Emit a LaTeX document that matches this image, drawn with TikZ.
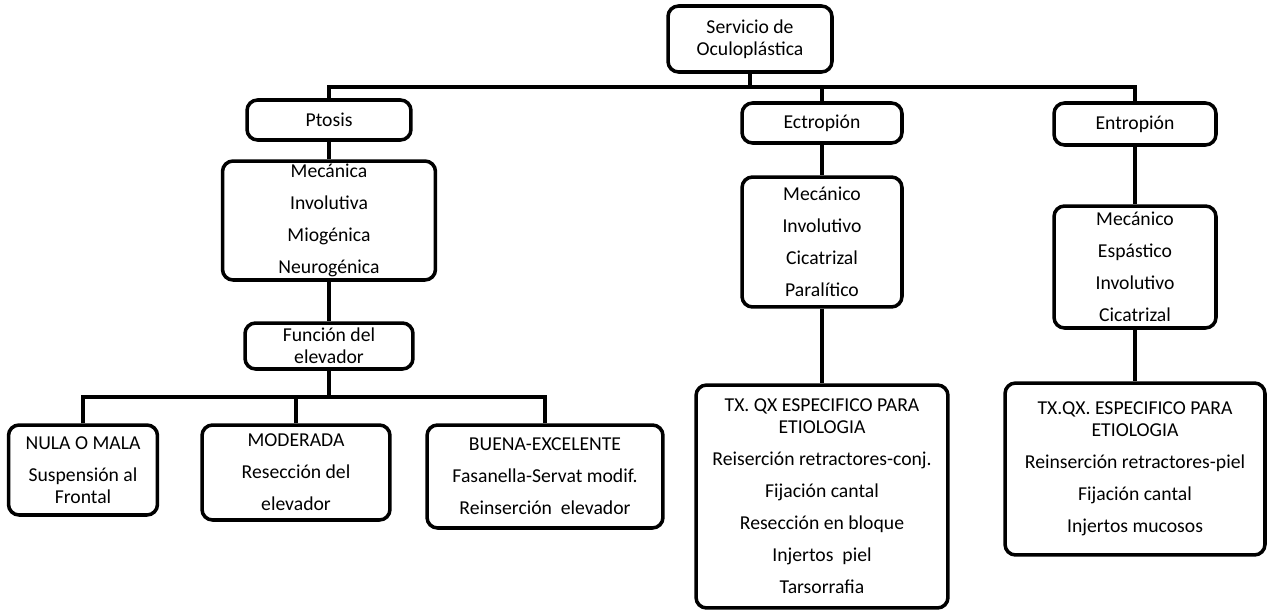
\documentclass[tikz,border=0pt]{standalone}
\usepackage{fontspec}
\setmainfont{Carlito}
\usepackage{tikz}
\usetikzlibrary{positioning, calc}

\tikzset{
  box/.style={draw, line width=2pt, rounded corners=6pt, align=center, inner sep=0pt,
    font=\fontsize{11.2}{12.5}\selectfont},
  link/.style={line width=2pt}
}

\begin{document}
\begin{tikzpicture}[x=0.02cm, y=-0.02cm]
  \useasboundingbox (0,0) rectangle (1270,612);

  % Top level
  \node[box, minimum width=3.28cm, minimum height=1.32cm] (serv) at (750,39) {Servicio de\\Oculoplástica};
  \coordinate (topbus) at (750,87);

  \node[box, minimum width=3.28cm, minimum height=0.8cm] (ptosis) at (329,120) {Ptosis};
  \node[box, minimum width=3.2cm, minimum height=0.8cm] (ectro) at (822,123) {Ectropión};
  \node[box, minimum width=3.24cm, minimum height=0.84cm] (entro) at (1135,124) {Entropión};

  % Types
  \node[box, minimum width=4.26cm, minimum height=2.38cm] (ptoscat) at (329,220.5)
    {Mecánica\\[5.7pt]Involutiva\\[5.7pt]Miogénica\\[5.7pt]Neurogénica};
  \node[box, minimum width=3.2cm, minimum height=2.6cm] (ectrocat) at (822,242)
    {Mecánico\\[5.7pt]Involutivo\\[5.7pt]Cicatrizal\\[5.7pt]Paralítico};
  \node[box, minimum width=3.24cm, minimum height=2.44cm] (entrocat) at (1135,267)
    {Mecánico\\[5.7pt]Espástico\\[5.7pt]Involutivo\\[5.7pt]Cicatrizal};

  % Ptosis branch
  \node[box, minimum width=3.36cm, minimum height=0.92cm] (funcion) at (329,346) {Función del\\elevador};
  \coordinate (lowbus) at (329,397);

  \node[box, minimum width=2.98cm, minimum height=1.8cm] (nula) at (83,470)
    {NULA O MALA\\[5.7pt]Suspensión al\\Frontal};
  \node[box, minimum width=3.76cm, minimum height=1.9cm] (moderada) at (296,472.5)
    {MODERADA\\[5.7pt]Resección del\\[5.7pt]elevador};
  \node[box, minimum width=4.72cm, minimum height=2.06cm] (buena) at (545,476.5)
    {BUENA-EXCELENTE\\[5.7pt]Fasanella-Servat modif.\\[5.7pt]Reinserción\ \ elevador};

  % Surgical treatment
  \node[box, minimum width=5.04cm, minimum height=4.46cm] (txectro) at (822,496.5)
    {TX. QX ESPECIFICO PARA\\ETIOLOGIA\\[5.7pt]Reiserción retractores-conj.\\[5.7pt]Fijación cantal\\[5.7pt]Resección en bloque\\[5.7pt]Injertos\ \ piel\\[5.7pt]Tarsorrafia};
  \node[box, minimum width=5.2cm, minimum height=3.44cm] (txentro) at (1135,469)
    {TX.QX. ESPECIFICO PARA\\ETIOLOGIA\\[5.7pt]Reinserción retractores-piel\\[5.7pt]Fijación cantal\\[5.7pt]Injertos mucosos};

  % Connectors
  \draw[link] (serv) -- (topbus);
  \draw[link] (ptosis.north) |- (topbus) -| (entro.north);
  \draw[link] (ectro.north) -- (ectro.north |- topbus);

  \draw[link] (ptosis) -- (ptoscat);
  \draw[link] (ectro) -- (ectrocat);
  \draw[link] (entro) -- (entrocat);

  \draw[link] (ptoscat) -- (funcion);
  \draw[link] (funcion) -- (lowbus);
  \draw[link] (nula.north) |- (lowbus) -| (buena.north);
  \draw[link] (moderada.north) -- (moderada.north |- lowbus);

  \draw[link] (ectrocat) -- (txectro);
  \draw[link] (entrocat) -- (txentro);
\end{tikzpicture}
\end{document}
